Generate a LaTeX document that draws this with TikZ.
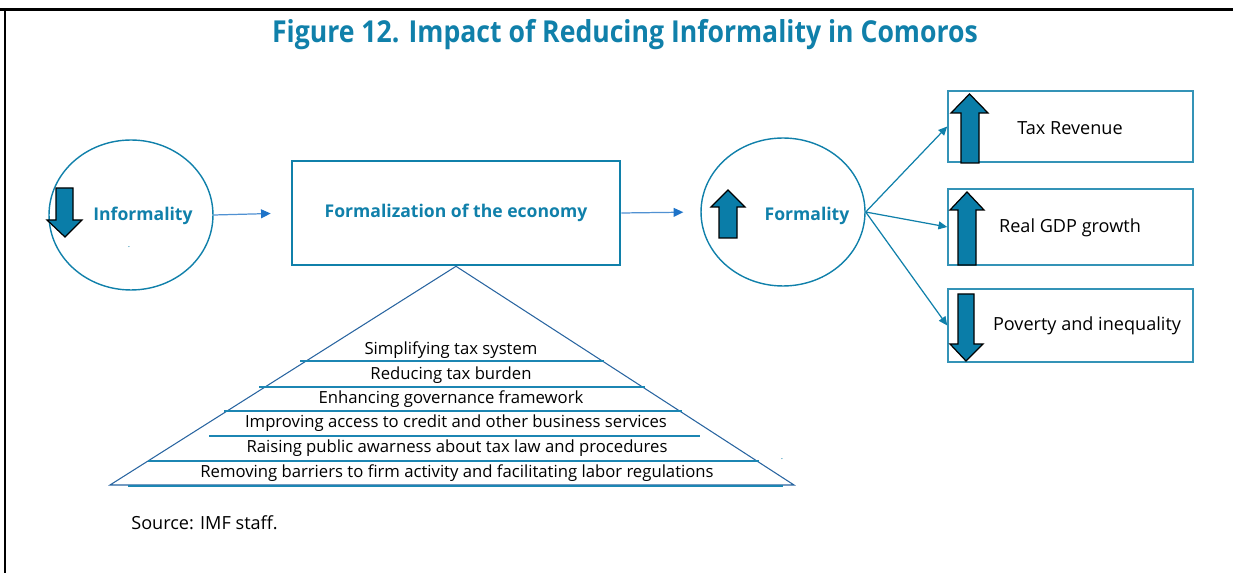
\documentclass[tikz,border=0pt]{standalone}
\usepackage{fontspec}
\setmainfont{Open Sans}
\usepackage{xcolor}
\usetikzlibrary{shapes.geometric,arrows.meta}

\definecolor{imfteal}{RGB}{16,128,170}
\definecolor{arrowfill}{RGB}{10,125,168}
\definecolor{linkblue}{RGB}{80,145,210}
\definecolor{tipblue}{RGB}{30,115,200}
\definecolor{pyrblue}{RGB}{40,100,160}
\definecolor{ruleteal}{RGB}{28,134,179}

\begin{document}
\begin{tikzpicture}[x=0.02cm,y=-0.02cm,
  every node/.style={inner sep=0pt},
  oval/.style={draw=imfteal,line width=0.8pt,ellipse,minimum width=3.28cm,minimum height=3cm},
  box/.style={draw=imfteal!85,line width=0.9pt,minimum width=4.9cm},
  head/.style={text=imfteal,font=\bfseries\fontsize{10}{12}\selectfont},
  outcome/.style={font=\fontsize{10.3}{12}\selectfont},
  layer/.style={font=\fontsize{9.5}{11}\selectfont},
  blockarr/.style={fill=arrowfill,draw=black,line width=0.7pt,line join=miter},
  link/.style={linkblue,line width=0.7pt,-{Triangle[length=5.5pt,width=5pt,color=tipblue]}},
  fan/.style={imfteal,line width=0.7pt,-{Triangle[length=5pt,width=4.5pt]}}]
\useasboundingbox (0,0) rectangle (1233,573);
% frame
\draw [black,line width=1.7pt] (0,10) -- (1233,10);
\draw [black,line width=1.7pt] (5,10) -- (5,573);
\node [text=imfteal,font=\bfseries\fontsize{17.2}{20}\selectfont] (title) at (625,35)
  {\scalebox{0.88}[1]{Figure 12. Impact of Reducing Informality in Comoros}};

% left side
\node [oval] (inf) at (131,215) {};
\node [head] (inftxt) at (143,216) {Informality};
\node [text=imfteal,font=\tiny] (infdot) at (129,247) {.};
\filldraw [blockarr] (56,188) -- (73,188) -- (73,220) -- (82,220) -- (65,237) -- (47,220) -- (56,220) -- cycle;

\node [draw=imfteal,line width=1.5pt,minimum width=6.56cm,minimum height=2.08cm] (econ) at (456,213) {};
\node [head] (econtxt) at (456,213) {Formalization of the economy};

\node [oval,minimum height=2.96cm] (formal) at (783,212) {};
\node [head] (formtxt) at (807,216) {Formality};
\filldraw [blockarr] (719,238) -- (737,238) -- (737,207) -- (745,207) -- (728,190) -- (711,207) -- (719,207) -- cycle;

\draw [link,shorten >=0.4cm] (inf.east) -- (econ.west);
\draw [link,shorten >=0.34cm] (econ.east) -- (formal.west);

% outcomes
\node [box,minimum height=1.42cm] (tax) at (1070.5,126.5) {};
\node [box,minimum height=1.52cm] (gdp) at (1070.5,227) {};
\node [box,minimum height=1.46cm] (pov) at (1070.5,325.5) {};
\node [outcome] (taxtxt) at (1070,128) {Tax Revenue};
\node [outcome] (gdptxt) at (1070,228) {Real GDP growth};
\node [outcome] (povtxt) at (1087,326) {Poverty and inequality};
\filldraw [blockarr] (961,163) -- (979,163) -- (979,113) -- (988,113) -- (969.5,94) -- (951,113) -- (961,113) -- cycle;
\filldraw [blockarr] (958,265) -- (976,265) -- (976,210) -- (984,210) -- (967,192) -- (950,210) -- (958,210) -- cycle;
\filldraw [blockarr] (958,294) -- (974,294) -- (974,344) -- (983,344) -- (966,361) -- (950,344) -- (958,344) -- cycle;

\draw [fan] (formal.east) -- (tax.west);
\draw [fan] (formal.east) -- (gdp.west);
\draw [fan] (formal.east) -- (pov.west);

% pyramid of measures
\draw [pyrblue,line width=0.6pt] (econ.south) -- (110,485) -- (794,485) -- cycle;
\foreach \y/\xa/\xb in {361/300/604, 387/259/645, 411/224/682, 436/209/700, 461/148/759, 486/128/783}
  \draw [ruleteal,line width=1.4pt] (\xa,\y) -- (\xb,\y);
\node [layer] (l1) at (451,350) {Simplifying tax system};
\node [layer] (l2) at (451,375) {Reducing tax burden};
\node [layer] (l3) at (451,399) {Enhancing governance framework};
\node [layer] (l4) at (456,423) {Improving access to credit and other business services};
\node [layer] (l5) at (457,448) {Raising public awarness about tax law and procedures};
\node [layer] (l6) at (457,473) {Removing barriers to firm activity and facilitating labor regulations};
\node [text=imfteal,font=\tiny] (pyrdot) at (782,459) {.};

\node [anchor=west,font=\fontsize{10.3}{12}\selectfont] (src) at (131,523) {Source: IMF staff.};
\end{tikzpicture}
\end{document}
